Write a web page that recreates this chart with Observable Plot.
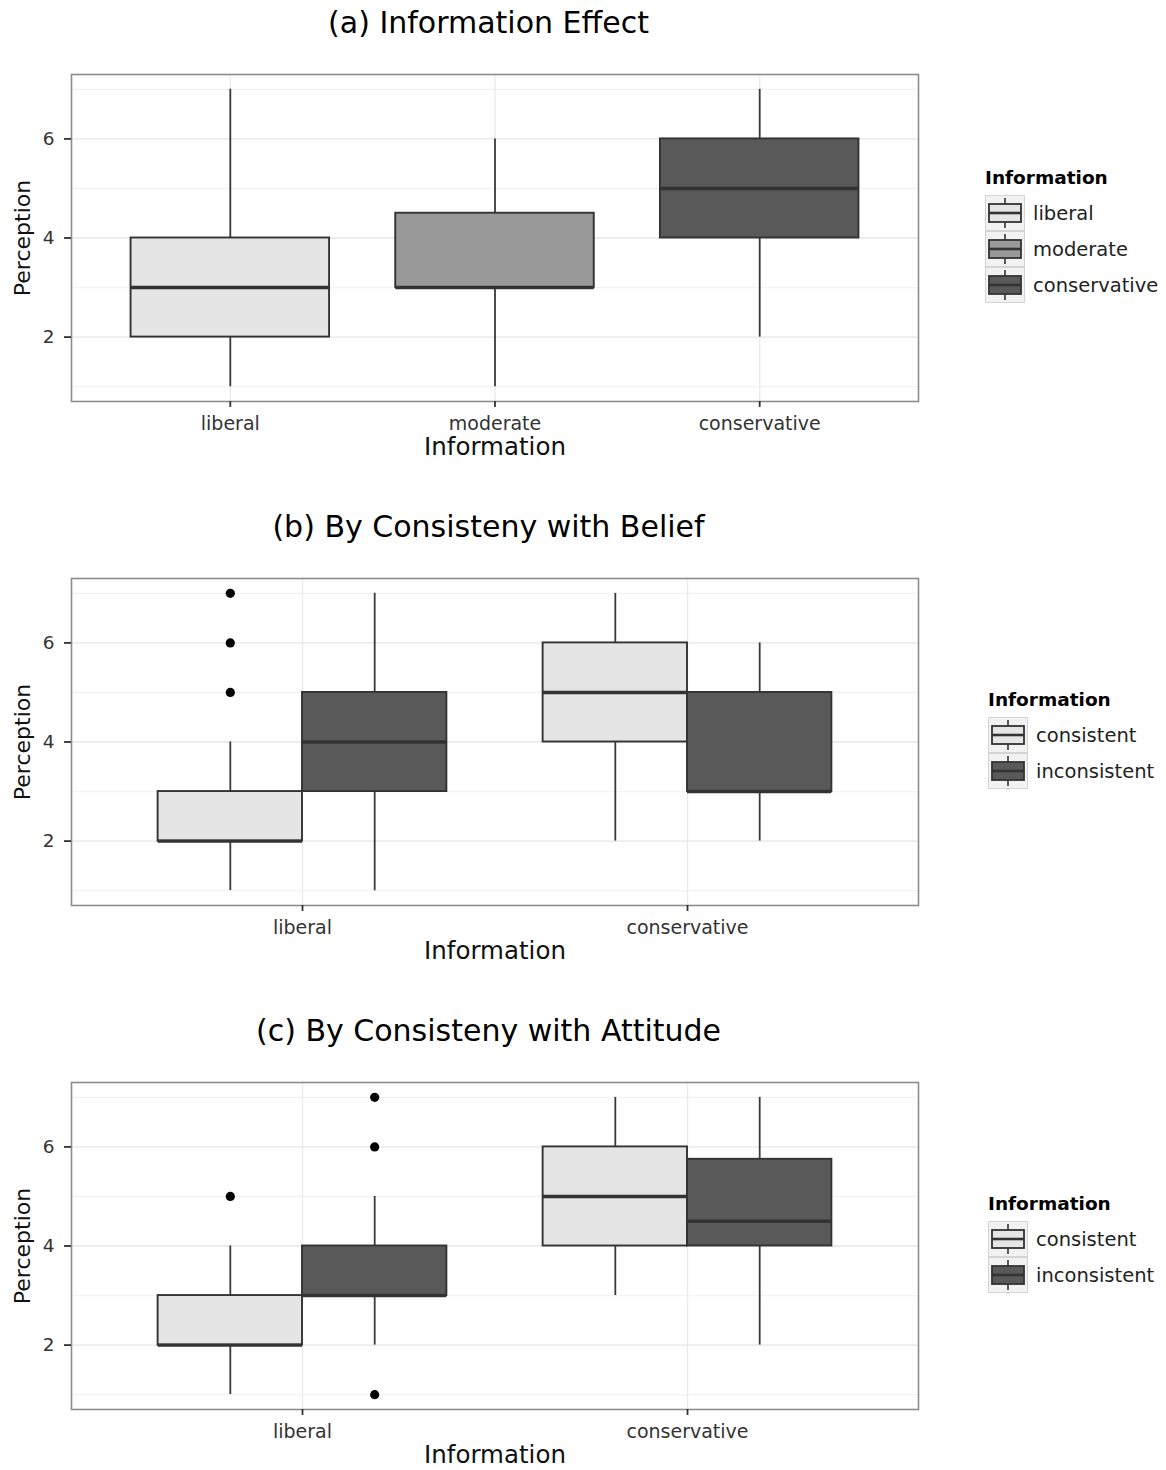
<!DOCTYPE html>
<html><head><meta charset="utf-8">
<script src="https://cdn.jsdelivr.net/npm/d3@7"></script>
<script src="https://cdn.jsdelivr.net/npm/@observablehq/plot@0.6"></script>
<style>
body{margin:0;background:#fff;font-family:"DejaVu Sans",sans-serif;}
.panel{position:relative;width:1166px;}
.title{width:977px;height:50px;line-height:46px;text-align:center;font-size:30px;color:#000;}
.legend{position:absolute;top:71.5px;height:327px;display:flex;flex-direction:column;justify-content:center;}
.ltitle{font-weight:bold;font-size:18.5px;line-height:22px;margin-bottom:6px;color:#000;}
.lrow{display:flex;align-items:center;height:36px;}
.lrow span{font-size:19.5px;margin-left:8px;color:#222;}
svg{display:block;}
</style></head><body><div id="root"></div>
<script>
// ---- Panel (a): Information effect ----
const infoA = ["liberal", "moderate", "conservative"];
const fillA = ["#e5e5e5", "#999999", "#595959"];
const aLow  = [1, 1, 2];
const aQ1   = [2, 3, 4];
const aMed  = [3, 3, 5];
const aQ3   = [4, 4.5, 6];
const aHigh = [7, 6, 7];

// ---- Panels (b), (c): categories and groups ----
const infoBC  = ["liberal", "conservative"];
const groupBC = ["consistent", "inconsistent"];
const fillBC  = ["#e5e5e5", "#595959"];
const rowInfo  = ["liberal", "liberal", "conservative", "conservative"];
const rowGroup = ["consistent", "inconsistent", "consistent", "inconsistent"];

// ---- Panel (b): by consistency with belief ----
const bLow  = [1, 1, 2, 2];
const bQ1   = [2, 3, 4, 3];
const bMed  = [2, 4, 5, 3];
const bQ3   = [3, 5, 6, 5];
const bHigh = [4, 7, 7, 6];
const bOutInfo  = ["liberal", "liberal", "liberal"];
const bOutGroup = ["consistent", "consistent", "consistent"];
const bOutVal   = [5, 6, 7];

// ---- Panel (c): by consistency with attitude ----
const cLow  = [1, 2, 3, 2];
const cQ1   = [2, 3, 4, 4];
const cMed  = [2, 3, 5, 4.5];
const cQ3   = [3, 4, 6, 5.75];
const cHigh = [4, 5, 7, 7];
const cOutInfo  = ["liberal", "liberal", "liberal", "liberal"];
const cOutGroup = ["consistent", "inconsistent", "inconsistent", "inconsistent"];
const cOutVal   = [5, 1, 6, 7];

const yTicks = [2, 4, 6];
const yMinor = [1, 3, 5, 7];

function makeRows(info, group, low, q1, med, q3, high) {
  return info.map((d, i) => ({info: d, group: group[i], low: low[i], q1: q1[i], med: med[i], q3: q3[i], high: high[i]}));
}
function makeOut(info, group, val) {
  return info.map((d, i) => ({info: d, group: group[i], val: val[i]}));
}

function legendKey(fill) {
  const ns = "http://www.w3.org/2000/svg";
  const s = document.createElementNS(ns, "svg");
  s.setAttribute("width", 40); s.setAttribute("height", 36);
  s.innerHTML =
    `<rect x="0.5" y="0.5" width="39" height="35" fill="#f2f2f2" stroke="#d4d4d4"/>` +
    `<line x1="20" x2="20" y1="3" y2="33" stroke="#333" stroke-width="1.6"/>` +
    `<rect x="4" y="9" width="32" height="18" fill="${fill}" stroke="#333" stroke-width="1.8"/>` +
    `<line x1="4" x2="36" y1="18" y2="18" stroke="#333" stroke-width="2.6"/>`;
  return s;
}

function drawPanel(cfg) {
  const {title, cats, groups, fills, rows, outliers, dodge, height, marginBottom, legendLeft} = cfg;
  const panel = document.createElement("div");
  panel.className = "panel";
  const t = document.createElement("div");
  t.className = "title"; t.textContent = title;
  panel.appendChild(t);

  const xOpts = {domain: cats, paddingInner: 0.25, paddingOuter: 0.225, round: false};
  const common = {width: 1166, height, marginLeft: 71, marginRight: 248, marginTop: 24, marginBottom,
    style: {fontFamily: "DejaVu Sans", background: "#fff", overflow: "visible"}};
  const yOpts = {domain: [0.7, 7.3]};
  const probe = Plot.plot({...common, x: xOpts, y: yOpts,
    marks: [Plot.barY(cats.map(c => ({c})), {x: "c", y1: 1, y2: 2})]});
  const bw = probe.scale("x").bandwidth;
  const k = dodge ? groups.length : 1;
  const sub = bw / k;

  const marks = [
    Plot.ruleY(yMinor, {stroke: "#f2f2f2", strokeWidth: 1.2}),
    Plot.ruleY(yTicks, {stroke: "#e6e6e6", strokeWidth: 1.4}),
    Plot.ruleX(cats, {x: d => d, stroke: "#ebebeb", strokeWidth: 1.4})
  ];
  groups.forEach((g, gi) => {
    const idx = dodge ? gi : 0;
    const left = idx * sub;
    const dx = left + sub / 2 - bw / 2;
    const data = rows.filter(r => r.group === g);
    marks.push(Plot.ruleX(data, {x: "info", y1: "low", y2: "high", dx, stroke: "#3a3a3a", strokeWidth: 1.8}));
  });
  groups.forEach((g, gi) => {
    const idx = dodge ? gi : 0;
    const left = idx * sub, right = bw - (idx + 1) * sub;
    const dx = left + sub / 2 - bw / 2;
    const data = rows.filter(r => r.group === g);
    const od = outliers.filter(r => r.group === g);
    marks.push(Plot.barY(data, {x: "info", y1: "q1", y2: "q3", fill: "group", stroke: "#333", strokeWidth: 1.9, insetLeft: left, insetRight: right}));
    marks.push(Plot.tickY(data, {x: "info", y: "med", stroke: "#333", strokeWidth: 3.4, insetLeft: left, insetRight: right}));
    marks.push(Plot.dot(od, {x: "info", y: "val", dx, r: 4.6, fill: "#000"}));
  });
  marks.push(
    Plot.frame({stroke: "#8c8c8c", strokeWidth: 1.6}),
    Plot.axisY({ticks: yTicks, tickFormat: d3.format("d"), tickSize: 7, tickPadding: 10, fontSize: 18.5, color: "#333", strokeWidth: 1.8, label: null}),
    Plot.axisX({tickSize: 6, tickPadding: 9, fontSize: 19, color: "#333", strokeWidth: 1.8, label: null}),
    Plot.text(["Information"], {frameAnchor: "bottom", lineAnchor: "middle", dy: 46, fontSize: 24.5, fill: "#111"}),
    Plot.text(["Perception"], {frameAnchor: "left", textAnchor: "middle", lineAnchor: "middle", dx: -48.5, rotate: -90, fontSize: 22, fill: "#111"})
  );

  const chart = Plot.plot({...common, x: xOpts, y: yOpts,
    color: {domain: groups, range: fills}, marks});
  panel.appendChild(chart);

  const lg = document.createElement("div");
  lg.className = "legend";
  lg.style.left = legendLeft + "px";
  const lt = document.createElement("div");
  lt.className = "ltitle"; lt.textContent = "Information";
  lg.appendChild(lt);
  groups.forEach((g, i) => {
    const row = document.createElement("div");
    row.className = "lrow";
    row.appendChild(legendKey(fills[i]));
    const sp = document.createElement("span"); sp.textContent = g;
    row.appendChild(sp);
    lg.appendChild(row);
  });
  panel.appendChild(lg);
  document.getElementById("root").appendChild(panel);
}

drawPanel({
  title: "(a) Information Effect", cats: infoA, groups: infoA, fills: fillA,
  rows: makeRows(infoA, infoA, aLow, aQ1, aMed, aQ3, aHigh), outliers: [],
  dodge: false, height: 454, marginBottom: 103, legendLeft: 985
});
drawPanel({
  title: "(b) By Consisteny with Belief", cats: infoBC, groups: groupBC, fills: fillBC,
  rows: makeRows(rowInfo, rowGroup, bLow, bQ1, bMed, bQ3, bHigh),
  outliers: makeOut(bOutInfo, bOutGroup, bOutVal),
  dodge: true, height: 454, marginBottom: 103, legendLeft: 988
});
drawPanel({
  title: "(c) By Consisteny with Attitude", cats: infoBC, groups: groupBC, fills: fillBC,
  rows: makeRows(rowInfo, rowGroup, cLow, cQ1, cMed, cQ3, cHigh),
  outliers: makeOut(cOutInfo, cOutGroup, cOutVal),
  dodge: true, height: 412, marginBottom: 61, legendLeft: 988
});
</script></body></html>
